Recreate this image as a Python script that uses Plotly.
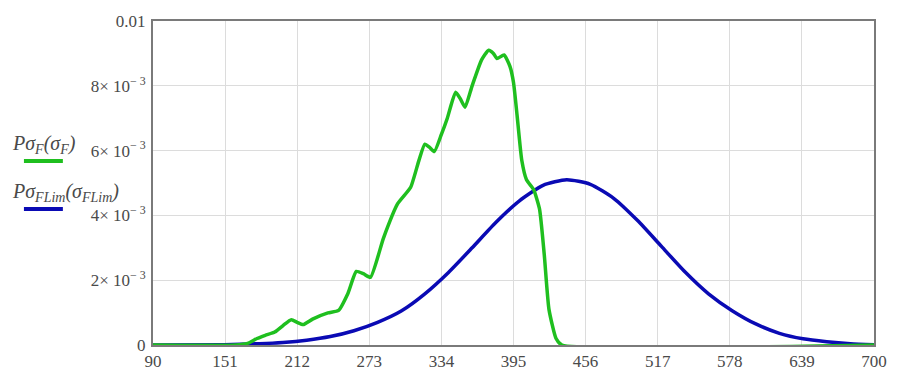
import plotly.graph_objects as go

# Stress values (MPa) and probability densities for the working-stress distribution
sigma_F = [90, 160, 170, 178, 185, 193, 200, 207, 212, 217, 225, 238, 247, 255, 262,
           268, 274, 285, 297, 308, 315, 320, 324, 328, 334, 339, 346, 350, 354, 360,
           368, 374, 378, 381, 387, 392, 395, 398, 402, 406, 412, 417, 421, 425, 431,
           436, 700]
P_F = [0, 0, 0.00005, 0.0002, 0.0003, 0.0004, 0.0006, 0.00078, 0.0007, 0.00063, 0.0008,
       0.00099, 0.00107, 0.0016, 0.00227, 0.0022, 0.00209, 0.0033, 0.00436, 0.00487,
       0.0057, 0.0062, 0.0061, 0.00597, 0.0065, 0.0070, 0.0078, 0.0076, 0.00734, 0.0080,
       0.0088, 0.0091, 0.0090, 0.00884, 0.00895, 0.0086, 0.0081, 0.0071, 0.0057, 0.0051,
       0.0048, 0.0042, 0.0028, 0.0011, 0.0002, 0, 0]

# Limit-stress distribution
sigma_FLim = [90, 150, 180, 200, 220, 240, 260, 280, 300, 320, 340, 360, 380, 400, 420,
              440, 460, 480, 500, 520, 540, 560, 580, 600, 620, 640, 660, 680, 700]
P_FLim = [0, 0.00001, 0.00004, 0.00008, 0.00015, 0.00026, 0.00044, 0.0007, 0.00105,
          0.00158, 0.00224, 0.003, 0.00378, 0.00445, 0.00493, 0.0051, 0.00496, 0.00452,
          0.00384, 0.00305, 0.00226, 0.00158, 0.00106, 0.00065, 0.00036, 0.00019,
          0.0001, 0.00004, 0.00001]

x_ticks = [90, 151, 212, 273, 334, 395, 456, 517, 578, 639, 700]
y_ticks = [0, 0.002, 0.004, 0.006, 0.008, 0.01]
y_labels = ["0", "2× 10<sup>− 3</sup>", "4× 10<sup>− 3</sup>", "6× 10<sup>− 3</sup>",
            "8× 10<sup>− 3</sup>", "0.01"]

green = "#1fbf1f"
blue = "#0a0ab4"
serif = "Times New Roman"
text_col = "#4a4a4a"

fig = go.Figure()
fig.add_trace(go.Scatter(x=sigma_FLim, y=P_FLim, mode="lines",
                         line=dict(color=blue, width=3.5, shape="spline", smoothing=0.6),
                         showlegend=False))
fig.add_trace(go.Scatter(x=sigma_F, y=P_F, mode="lines",
                         line=dict(color=green, width=3.5, shape="spline", smoothing=0.5),
                         showlegend=False))

fig.update_layout(
    width=899, height=383,
    margin=dict(l=153, r=20, t=18, b=31),
    paper_bgcolor="white", plot_bgcolor="white",
    font=dict(family=serif, color=text_col, size=16),
    xaxis=dict(range=[90, 700], tickvals=x_ticks, ticktext=[str(v) for v in x_ticks],
               showgrid=True, gridcolor="#dcdcdc", gridwidth=1, zeroline=False,
               showline=True, linecolor="#7a7a7a", linewidth=2, mirror=True,
               ticks="", tickfont=dict(size=17, family=serif, color=text_col)),
    yaxis=dict(range=[0, 0.01], tickvals=y_ticks, ticktext=y_labels,
               showgrid=True, gridcolor="#dcdcdc", gridwidth=1, zeroline=False,
               showline=True, linecolor="#7a7a7a", linewidth=2, mirror=True,
               ticks="", ticklabelstandoff=2,
               tickfont=dict(size=17, family=serif, color=text_col)),
)

# Legend entries: label above a short line sample
fig.add_annotation(xref="paper", yref="paper", x=-0.199, y=0.618, xanchor="left",
                   yanchor="middle", showarrow=False,
                   text="<i>Pσ<sub>F</sub>(σ<sub>F</sub>)</i>",
                   font=dict(size=20, family=serif, color=text_col))
fig.add_annotation(xref="paper", yref="paper", x=-0.199, y=0.47, xanchor="left",
                   yanchor="middle", showarrow=False,
                   text="<i>Pσ<sub>FLim</sub>(σ<sub>FLim</sub>)</i>",
                   font=dict(size=20, family=serif, color=text_col))
fig.add_shape(type="line", xref="paper", yref="paper", x0=-0.179, x1=-0.125,
              y0=0.568, y1=0.568, line=dict(color=green, width=4))
fig.add_shape(type="line", xref="paper", yref="paper", x0=-0.179, x1=-0.125,
              y0=0.42, y1=0.42, line=dict(color=blue, width=4))

fig.write_html("out.html")
